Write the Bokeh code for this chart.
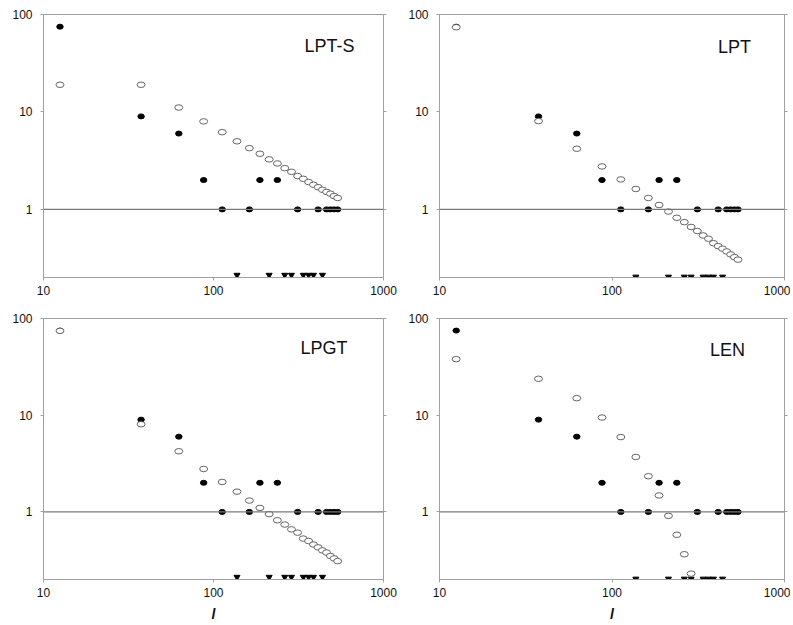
from bokeh.plotting import figure
from bokeh.models import Range1d, FixedTicker, LogAxis, Span, Label, ColumnDataSource, PrintfTickFormatter
from bokeh.layouts import gridplot
from bokeh.embed import file_html
from bokeh.resources import INLINE

nan = float("nan")

# multipole bin centres l
l_bins = [12.5, 37.5, 62.5, 87.5, 112.5, 137.5, 162.5, 187.5, 212.5, 237.5, 262.5,
          287.5, 312.5, 337.5, 362.5, 387.5, 412.5, 437.5, 462.5, 487.5, 512.5, 537.5]

# observed counts (0 -> drawn as triangle on the lower axis)
observed = [75, 9, 6, 2, 1, 0, 1, 2, 0, 2, 0, 0, 1, 0, 0, 0, 1, 0, 1, 1, 1, 1]

# model expectations for each panel (open symbols)
model_lpts = [19, 19, 11.1, 8.0, 6.2, 5.0, 4.25, 3.72, 3.26, 2.96, 2.65, 2.43, 2.2, 2.06,
              1.91, 1.79, 1.69, 1.59, 1.51, 1.45, 1.37, 1.31]
model_lpt = [74, 8.05, 4.19, 2.76, 2.03, 1.62, 1.31, 1.11, 0.95, 0.82, 0.74, 0.66, 0.60,
             0.54, 0.50, 0.45, 0.42, 0.395, 0.37, 0.345, 0.324, 0.305]
model_lpgt = [74.5, 8.07, 4.24, 2.78, 2.04, 1.62, 1.31, 1.10, 0.95, 0.82, 0.74, 0.66, 0.61,
              0.53, 0.50, 0.46, 0.43, 0.40, 0.38, 0.35, 0.33, 0.31]
model_len = [38, 23.8, 15, 9.46, 5.94, 3.7, 2.34, 1.48, 0.91, 0.58, 0.365, 0.23,
             nan, nan, nan, nan, nan, nan, nan, nan, nan, nan]

panel_names = ["LPT-S", "LPT", "LPGT", "LEN"]
x_ticks = [10, 100, 1000]
y_ticks = [1, 10, 100]

FONT = "Liberation Sans"
GRAY = "#a0a0a0"


def make_panel(name, model, title_pos, tri_y, width, height, borders, xlabel):
    left, right, top, bottom = borders
    p = figure(width=width, height=height, x_axis_type="log", y_axis_type="log",
               x_range=Range1d(10, 1000), y_range=Range1d(0.2, 100),
               output_backend="svg", toolbar_location=None,
               min_border_left=left, min_border_right=right,
               min_border_top=top, min_border_bottom=bottom)
    p.grid.visible = False
    p.outline_line_color = GRAY
    p.outline_line_width = 1
    p.background_fill_color = "white"
    p.border_fill_color = "white"

    for ax, ticks in ((p.xaxis, x_ticks), (p.yaxis, y_ticks)):
        ax.ticker = FixedTicker(ticks=ticks, minor_ticks=[])
        ax.formatter = PrintfTickFormatter(format="%d")
        ax.axis_line_color = GRAY
        ax.major_tick_line_color = GRAY
        ax.major_tick_out = 3
        ax.major_tick_in = 0
        ax.minor_tick_out = 0
        ax.minor_tick_in = 0
        ax.major_label_text_font = FONT
        ax.major_label_text_font_size = "12px"
        ax.major_label_text_color = "#111111"
    p.xaxis.major_label_standoff = 5
    p.yaxis.major_label_standoff = 8

    if xlabel:
        p.xaxis.axis_label = "l"
        p.xaxis.axis_label_text_font = FONT
        p.xaxis.axis_label_text_font_style = "bold italic"
        p.xaxis.axis_label_text_font_size = "14px"
        p.xaxis.axis_label_standoff = 6
        p.xaxis.axis_label_text_color = "#111111"

    ra = LogAxis(ticker=FixedTicker(ticks=y_ticks, minor_ticks=[]),
                 axis_line_color=GRAY, major_tick_line_color=GRAY,
                 major_tick_out=3, major_tick_in=0, minor_tick_out=0, minor_tick_in=0,
                 major_label_text_font_size="1px", major_label_text_alpha=0,
                 major_label_standoff=0)
    p.add_layout(ra, "right")

    p.add_layout(Span(location=1, dimension="width", line_color="#7a7a7a", line_width=1.2))

    obs_x = [x for x, o in zip(l_bins, observed) if o > 0]
    obs_y = [o for o in observed if o > 0]
    zero_x = [x for x, o in zip(l_bins, observed) if o == 0]
    zero_y = [tri_y] * len(zero_x)

    p.ellipse(x=obs_x, y=obs_y, width=6.5, height=5, width_units="screen",
              height_units="screen", fill_color="black", line_color="black")
    p.scatter(x=zero_x, y=zero_y, marker="inverted_triangle", size=6,
              fill_color="black", line_color="black")
    mx = [x for x, m in zip(l_bins, model) if m == m]
    my = [m for m in model if m == m]
    src = ColumnDataSource(dict(x=mx, y=my))
    p.ellipse(x="x", y="y", source=src, width=8, height=5.5, width_units="screen",
              height_units="screen", fill_color="white", line_color="#555555",
              line_width=0.9)

    tx, ty = title_pos
    p.add_layout(Label(x=tx, y=ty, text=name, text_align="right",
                       text_baseline="alphabetic", text_font=FONT,
                       text_font_size="18px", text_color="#111111"))
    return p


p1 = make_panel(panel_names[0], model_lpts, (675, 48), 0.212, 404, 312, (43, 21, 14, 35), False)
p2 = make_panel(panel_names[1], model_lpt, (640, 46), 0.203, 386, 312, (35, 6, 14, 35), False)
p3 = make_panel(panel_names[2], model_lpgt, (614, 50), 0.212, 404, 312, (43, 21, 6, 44), True)
p4 = make_panel(panel_names[3], model_len, (590, 47), 0.203, 386, 312, (35, 6, 6, 44), True)

layout = gridplot([[p1, p2], [p3, p4]], toolbar_location=None)

open("out.html", "w").write(file_html(layout, INLINE))
